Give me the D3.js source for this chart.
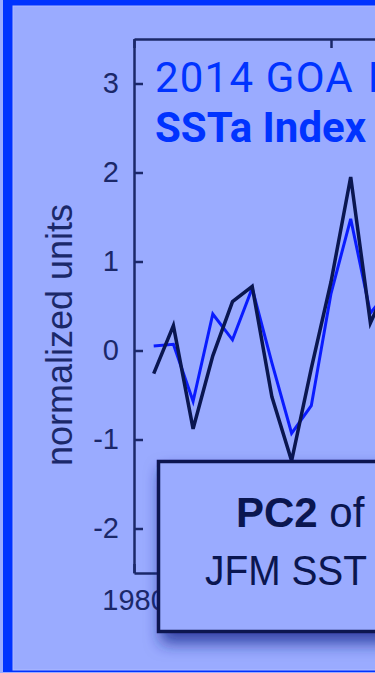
<!DOCTYPE html>
<html>
<head>
<meta charset="utf-8">
<script src="https://cdn.jsdelivr.net/npm/d3@7"></script>
<style>
  html, body { margin: 0; padding: 0; background: #9aabff; overflow: hidden; }
  svg { display: block; }
</style>
</head>
<body>
<svg id="chart" width="375" height="673"></svg>
<script>
// ---- data ----
const years = [1981, 1982, 1983, 1984, 1985, 1986, 1987, 1988, 1989, 1990, 1991, 1992, 1993];
const pc2Values = [-0.26, 0.28, -0.88, -0.06, 0.55, 0.72, -0.52, -1.24, -0.2, 0.77, 1.95, 0.31, 0.8];
const sstaIndexValues = [0.05, 0.07, -0.57, 0.41, 0.12, 0.70, -0.14, -0.93, -0.62, 0.64, 1.48, 0.42, 0.7];
const yTicks = [-2, -1, 0, 1, 2, 3];
const xTicks = [1980, 1990, 2000, 2010];
const yDomain = [-2.5, 3.5];
const xDomain = [1980, 2016];
const titleLine1a = "2014 GOA";
const titleLine1b = "MHW";
const titleLine2 = "SSTa Index";
const yLabel = "normalized units";
const boxLine1Bold = "PC2";
const boxLine1Rest = " of";
const boxLine2 = "JFM SST";

(function () {
// ---- styles ----
const BG = "#9aabff";
const FRAME = "#0033ff";
const NAVY = "#1b2869";
const DARK = "#0a1650";
const BLUE = "#0a1cff";

const svg = d3.select("#chart");

// background & frame
svg.append("rect").attr("x", 0).attr("y", 0).attr("width", 375).attr("height", 673).attr("fill", BG);
svg.append("rect").attr("x", 3).attr("y", 0).attr("width", 400).attr("height", 673).attr("fill", FRAME);
svg.append("rect").attr("x", 13).attr("y", 6).attr("width", 400).attr("height", 664)
  .attr("fill", BG).attr("stroke", "#aebaff").attr("stroke-width", 1);
svg.append("rect").attr("x", 0).attr("y", 672).attr("width", 375).attr("height", 1).attr("fill", BG);

// defs: drop shadow
const defs = svg.append("defs");
const f = defs.append("filter").attr("id", "shadow")
  .attr("x", "-20%").attr("y", "-30%").attr("width", "150%").attr("height", "170%");
f.append("feGaussianBlur").attr("in", "SourceAlpha").attr("stdDeviation", 8).attr("result", "blur");
f.append("feOffset").attr("in", "blur").attr("dx", 4).attr("dy", 10).attr("result", "off");
f.append("feFlood").attr("flood-color", "#1a2a90").attr("flood-opacity", 0.8);
f.append("feComposite").attr("in2", "off").attr("operator", "in").attr("result", "sh");
const m = f.append("feMerge");
m.append("feMergeNode").attr("in", "sh");
m.append("feMergeNode").attr("in", "SourceGraphic");

// scales
const mLeft = 134, mTop = 39, mBottom = 573;
const x = d3.scaleLinear().domain(xDomain).range([mLeft, mLeft + (xDomain[1] - xDomain[0]) * 19.7]);
const y = d3.scaleLinear().domain(yDomain).range([mBottom, mTop]);

// axes
const tickFont = "'Liberation Sans', Arial, sans-serif";
const fmt = d => String(d);
const yAxis = svg.append("g").attr("transform", `translate(${mLeft},0)`)
  .call(d3.axisLeft(y).tickValues(yTicks).tickFormat(fmt).tickSizeInner(-9).tickSizeOuter(0).tickPadding(15));
const xAxisB = svg.append("g").attr("transform", `translate(0,${mBottom})`)
  .call(d3.axisBottom(x).tickValues(xTicks).tickFormat(fmt).tickSizeInner(-9).tickSizeOuter(0).tickPadding(16));
const xAxisT = svg.append("g").attr("transform", `translate(0,${mTop})`)
  .call(d3.axisTop(x).tickValues(xTicks).tickFormat("").tickSizeInner(-9).tickSizeOuter(0));
[yAxis, xAxisB, xAxisT].forEach(g => {
  g.select(".domain").attr("stroke", NAVY).attr("stroke-width", 2.5);
  g.selectAll(".tick line").attr("stroke", NAVY).attr("stroke-width", 2.5);
  g.selectAll(".tick text").attr("fill", NAVY).attr("font-size", 29).attr("font-family", tickFont);
});
xAxisB.selectAll(".tick text").attr("dy", "0.71em");

// y label
svg.append("text")
  .attr("transform", `translate(72,335) rotate(-90)`)
  .attr("text-anchor", "middle")
  .attr("font-family", tickFont).attr("font-size", 36).attr("fill", NAVY)
  .text(yLabel);

// lines
const ssta = years.map((yr, i) => [yr, sstaIndexValues[i]]);
const pc2 = years.map((yr, i) => [yr, pc2Values[i]]);
const line = d3.line().x(d => x(d[0])).y(d => y(d[1]));
svg.append("path").datum(ssta).attr("d", line).attr("fill", "none")
  .attr("stroke", BLUE).attr("stroke-width", 3).attr("stroke-linejoin", "miter");
svg.append("path").datum(pc2).attr("d", line).attr("fill", "none")
  .attr("stroke", DARK).attr("stroke-width", 3.5).attr("stroke-linejoin", "miter");

// title
const titleFont = "Roboto, 'Noto Sans', sans-serif";
const tt = svg.append("text").attr("x", 155).attr("y", 92)
  .attr("font-family", titleFont).attr("font-weight", 400).attr("font-size", 42)
  .attr("letter-spacing", 1.2).attr("fill", FRAME);
tt.append("tspan").text(titleLine1a);
tt.append("tspan").attr("x", 368).text(titleLine1b);
svg.append("text").attr("x", 155).attr("y", 142)
  .attr("font-family", titleFont).attr("font-weight", 700).attr("font-size", 42)
  .attr("fill", FRAME).text(titleLine2);

// annotation box
svg.append("rect").attr("x", 158.5).attr("y", 461.5).attr("width", 400).attr("height", 170)
  .attr("fill", BG).attr("stroke", DARK).attr("stroke-width", 3.5).attr("filter", "url(#shadow)");
const boxFont = "'Liberation Sans', Arial, sans-serif";
const t1 = svg.append("text").attr("x", 236).attr("y", 527)
  .attr("font-family", boxFont).attr("font-size", 42).attr("fill", DARK);
t1.append("tspan").attr("font-weight", 700).text(boxLine1Bold);
t1.append("tspan").attr("font-weight", 400).text(boxLine1Rest);
svg.append("text").attr("x", 205).attr("y", 585)
  .attr("font-family", boxFont).attr("font-size", 42).attr("textLength", 162)
  .attr("lengthAdjust", "spacingAndGlyphs")
  .attr("fill", DARK).text(boxLine2);
})();
</script>
</body>
</html>
